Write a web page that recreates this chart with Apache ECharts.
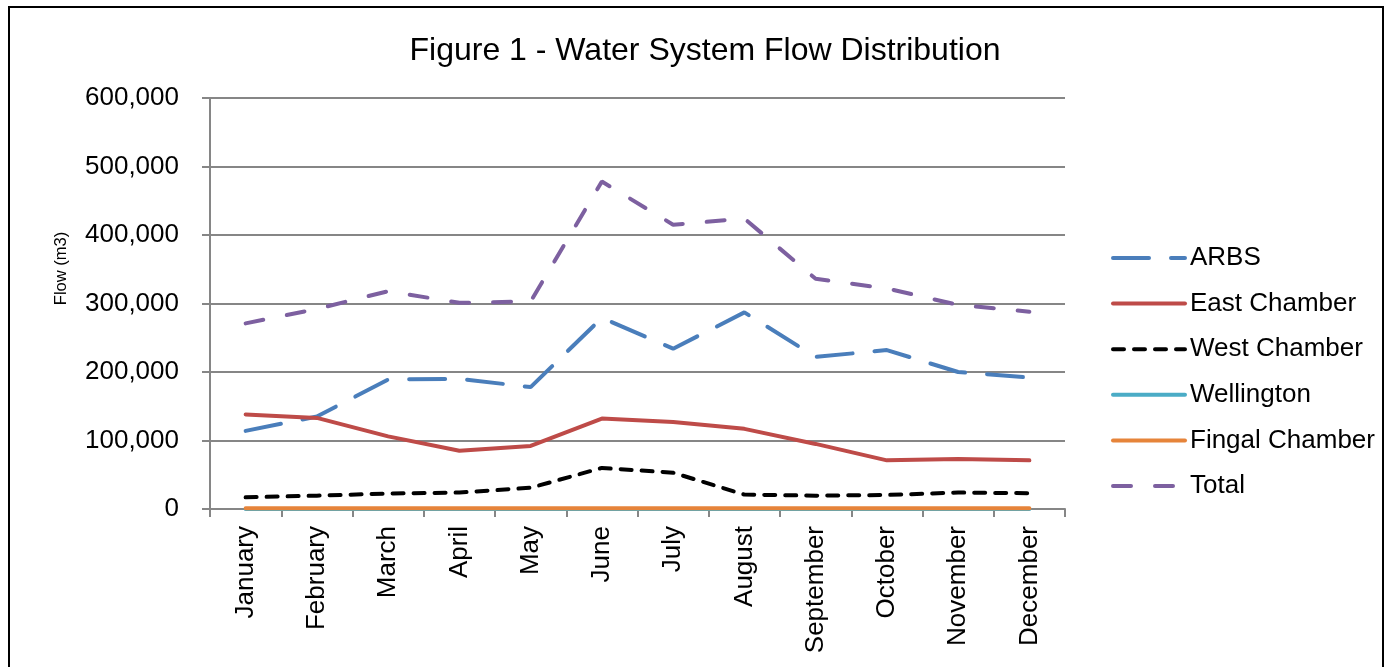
<!DOCTYPE html>
<html>
<head>
<meta charset="utf-8">
<script src="https://cdn.jsdelivr.net/npm/echarts@6/dist/echarts.min.js"></script>
<style>
  html, body { margin: 0; padding: 0; background: #fff; }
  #chart { width: 1390px; height: 667px; }
</style>
</head>
<body>
<div id="chart"></div>
<script>
// months on the x axis
var months = ['January', 'February', 'March', 'April', 'May', 'June',
  'July', 'August', 'September', 'October', 'November', 'December'];
// flows (m3)
var arbs = [114000, 135000, 189000, 190000, 178000, 279000, 234000, 287000, 222000, 232000, 200000, 192000];
var eastChamber = [138000, 133000, 106000, 85000, 92000, 132000, 127000, 117000, 95000, 71000, 73000, 71000];
var westChamber = [17000, 19500, 22500, 24000, 31000, 60000, 53000, 21000, 19500, 20500, 24000, 23000];
var wellington = [0, 0, 0, 0, 0, 0, 0, 0, 0, 0, 0, 0];
var fingalChamber = [1200, 1200, 1200, 1200, 1200, 1200, 1200, 1200, 1200, 1200, 1200, 1200];
var total = [271000, 292000, 318000, 301000, 303000, 478000, 415000, 424000, 336000, 322000, 298000, 288000];

var font = 'Liberation Sans, Arial, sans-serif';

function line(name, data, color, type) {
  return {
    name: name,
    type: 'line',
    data: data,
    symbol: 'none',
    lineStyle: { color: color, width: 4, type: type, cap: 'round' },
    itemStyle: { color: color }
  };
}

var myChart = echarts.init(document.getElementById('chart'));
var option = {
  animation: false,
  title: {
    text: 'Figure 1 - Water System Flow Distribution',
    left: 700,
    top: 30,
    textAlign: 'center',
    textStyle: { fontFamily: font, fontSize: 32, fontWeight: 'normal', color: '#000' }
  },
  graphic: [{
    type: 'rect',
    shape: { x: 9, y: 7, width: 1374, height: 700 },
    style: { fill: 'none', stroke: '#000', lineWidth: 2 }
  }],
  legend: {
    orient: 'vertical',
    left: 1106,
    top: 240,
    itemWidth: 72,
    itemHeight: 14,
    itemGap: 19.6,
    itemStyle: { opacity: 0 },
    lineStyle: { width: 4, cap: 'round' },
    textStyle: { fontFamily: font, fontSize: 26, color: '#000' },
    data: ['ARBS', 'East Chamber', 'West Chamber', 'Wellington', 'Fingal Chamber', 'Total']
  },
  grid: { left: 210, right: 325, top: 98, bottom: 158 },
  xAxis: {
    type: 'category',
    data: months,
    boundaryGap: true,
    axisLine: { lineStyle: { color: '#868686', width: 2 } },
    axisTick: { show: true, interval: 0, length: 8, lineStyle: { color: '#868686', width: 2 } },
    axisLabel: {
      interval: 0, rotate: 90, margin: 17,
      fontFamily: font, fontSize: 26, color: '#000'
    }
  },
  yAxis: {
    type: 'value',
    min: 0,
    max: 600000,
    interval: 100000,
    name: 'Flow (m3)',
    nameLocation: 'middle',
    nameGap: 140,
    nameRotate: 90,
    nameTextStyle: { fontFamily: font, fontSize: 16.5, color: '#000', padding: [0, 0, 0, 70] },
    axisLine: { show: true, lineStyle: { color: '#868686', width: 2 } },
    axisTick: { show: true, length: 8, lineStyle: { color: '#868686', width: 2 } },
    splitLine: { lineStyle: { color: '#868686', width: 2 } },
    axisLabel: { margin: 31, fontFamily: font, fontSize: 26, color: '#000' }
  },
  series: [
    line('ARBS', arbs, '#4a7ebb', [36, 22]),
    line('East Chamber', eastChamber, '#be4b48', 'solid'),
    line('West Chamber', westChamber, '#000000', [11, 10]),
    line('Wellington', wellington, '#4bacc6', 'solid'),
    line('Fingal Chamber', fingalChamber, '#e6843a', 'solid'),
    line('Total', total, '#7d60a0', [18, 24])
  ]
};
myChart.setOption(option);
</script>
</body>
</html>
